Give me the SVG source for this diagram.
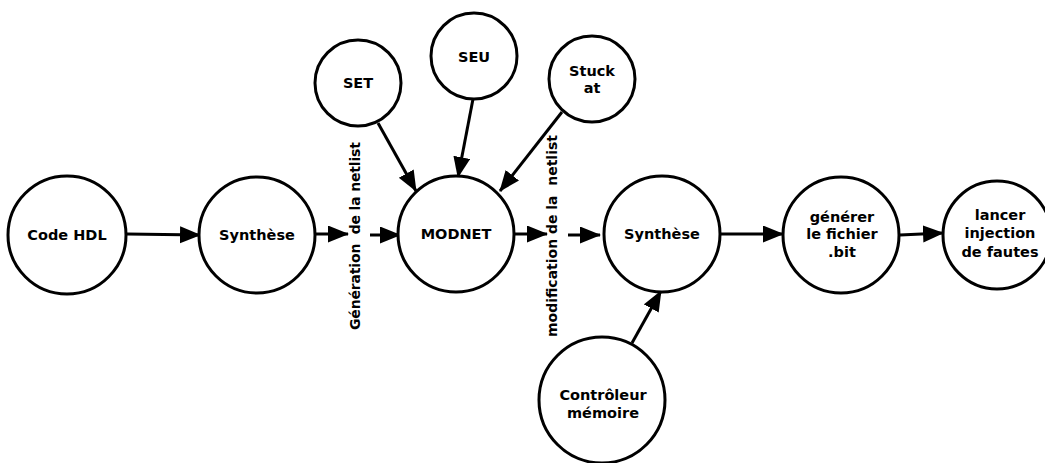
<svg xmlns="http://www.w3.org/2000/svg" width="1045" height="463" viewBox="0 0 1045 463">
<style>
.n{fill:#fff;stroke:#000;stroke-width:3}
.t{font-family:"DejaVu Sans",Verdana,sans-serif;font-weight:bold;font-size:14.5px;text-anchor:middle;fill:#000}
.c{stroke:#000;stroke-width:3;fill:none;marker-end:url(#ah)}
.v{font-family:"DejaVu Sans",Verdana,sans-serif;font-weight:bold;font-size:14px;text-anchor:middle;fill:#000;white-space:pre}
</style>
<defs>
<marker id="ah" markerUnits="userSpaceOnUse" markerWidth="22" markerHeight="18" refX="20" refY="8.5" orient="auto">
<path d="M0,0 L21,8.5 L0,17 z" fill="#000"/>
</marker>
</defs>
<rect width="1045" height="463" fill="#fff"/>
<g id="connectors">
<line class="c" x1="127" y1="234" x2="200" y2="235"/>
<line class="c" x1="315" y1="234" x2="348" y2="234"/>
<line class="c" x1="370" y1="235" x2="400" y2="235"/>
<line class="c" x1="378" y1="123" x2="416" y2="191"/>
<line class="c" x1="473" y1="99" x2="458" y2="177"/>
<line class="c" x1="562" y1="112" x2="500" y2="191"/>
<line class="c" x1="515" y1="234" x2="547" y2="234"/>
<line class="c" x1="568" y1="235" x2="600" y2="235"/>
<line class="c" x1="720" y1="234" x2="783" y2="234"/>
<line class="c" x1="900" y1="235" x2="943" y2="233"/>
<line class="c" x1="632" y1="343" x2="661" y2="291"/>
</g>
<g id="code-hdl"><circle class="n" cx="67" cy="235" r="59"/><text class="t" x="67" y="240">Code HDL</text></g>
<g id="synthese1"><circle class="n" cx="257" cy="235" r="58"/><text class="t" x="257" y="240">Synthèse</text></g>
<g id="label-generation"><text class="v" transform="translate(360,236) rotate(-90)" textLength="188" lengthAdjust="spacing">Génération  de la netlist</text></g>
<g id="set"><circle class="n" cx="358" cy="83" r="43"/><text class="t" x="358" y="88">SET</text></g>
<g id="seu"><circle class="n" cx="474" cy="56" r="43"/><text class="t" x="474" y="62">SEU</text></g>
<g id="stuck"><circle class="n" cx="592" cy="79" r="43"/><text class="t" x="592" y="76">Stuck</text><text class="t" x="592" y="93">at</text></g>
<g id="modnet"><circle class="n" cx="456" cy="234" r="58"/><text class="t" x="456" y="239">MODNET</text></g>
<g id="label-modification"><text class="v" transform="translate(557,236) rotate(-90)" textLength="202" lengthAdjust="spacing">modification de la  netlist</text></g>
<g id="synthese2"><circle class="n" cx="662" cy="234" r="58"/><text class="t" x="662" y="239">Synthèse</text></g>
<g id="generer"><circle class="n" cx="841" cy="235" r="58"/><text class="t" x="842" y="222">générer</text><text class="t" x="842" y="239">le fichier</text><text class="t" x="842" y="257">.bit</text></g>
<g id="lancer"><circle class="n" cx="997" cy="235" r="54"/><text class="t" x="1000" y="220">lancer</text><text class="t" x="1000" y="238">injection</text><text class="t" x="1000" y="257">de fautes</text></g>
<g id="controleur"><circle class="n" cx="602" cy="400" r="63"/><text class="t" x="603" y="400">Contrôleur</text><text class="t" x="603" y="418">mémoire</text></g>
</svg>
